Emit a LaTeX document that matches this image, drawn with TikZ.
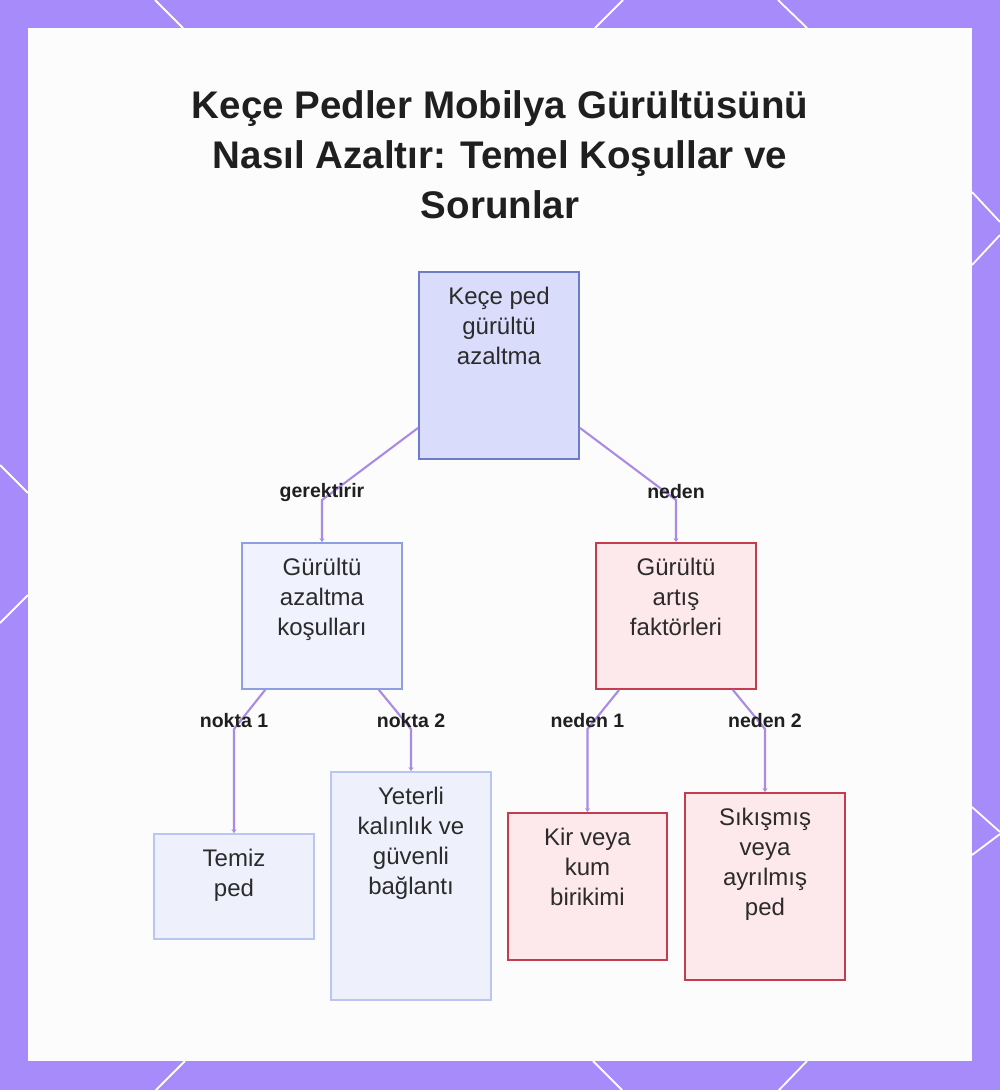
\documentclass[tikz,border=0pt]{standalone}
\usepackage{fontspec}
\setmainfont{Liberation Sans}
\usetikzlibrary{arrows.meta,positioning,calc}
\definecolor{Frame}{HTML}{A78BFA}
\definecolor{Panel}{HTML}{FCFCFC}
\definecolor{Ink}{HTML}{1F1F1F}
\definecolor{BoxInk}{HTML}{2B2B2B}
\definecolor{Link}{HTML}{A98BE6}
\definecolor{RootFill}{HTML}{D9DDFB}
\definecolor{RootLine}{HTML}{6B7DC8}
\definecolor{CondFill}{HTML}{F0F2FE}
\definecolor{CondLine}{HTML}{8E9FE0}
\definecolor{LeafFill}{HTML}{EEF1FC}
\definecolor{LeafLine}{HTML}{BAC5F1}
\definecolor{RiskFill}{HTML}{FDE8EC}
\definecolor{RiskLine}{HTML}{C43D4E}

\begin{document}
\begin{tikzpicture}[x=1pt,y=-1pt,
  box/.style={rectangle,inner sep=0pt,line width=1.7pt},
  rootbox/.style={box,fill=RootFill,draw=RootLine},
  condbox/.style={box,fill=CondFill,draw=CondLine},
  leafbox/.style={box,fill=LeafFill,draw=LeafLine},
  riskbox/.style={box,fill=RiskFill,draw=RiskLine},
  boxtext/.style={anchor=north,align=center,inner sep=0pt,yshift=-16pt,text=BoxInk,font=\fontsize{24}{30}\selectfont},
  link/.style={Link,line width=2.1pt,-{Stealth[length=4pt,width=5pt]}},
  elabel/.style={yshift=8pt,inner sep=0pt,text=Ink,font=\fontsize{19.5}{22}\selectfont\bfseries},
  deco/.style={white,line width=1.8pt}]
\useasboundingbox (0,0) rectangle (1000,1090);
% frame and panel
\fill[Frame] (0,0) rectangle (1000,1090);
\draw[deco] (155,0) -- (183,28);
\draw[deco] (623,0) -- (595,28);
\draw[deco] (778,0) -- (807,28);
\draw[deco] (972,192) -- (1000,222);
\draw[deco] (1000,235) -- (972,265);
\draw[deco] (972,807) -- (1000,832);
\draw[deco] (1000,834) -- (972,855);
\draw[deco] (0,465) -- (28,493);
\draw[deco] (28,595) -- (0,623);
\draw[deco] (185,1061) -- (156,1090);
\draw[deco] (593,1061) -- (622,1090);
\draw[deco] (807,1061) -- (779,1090);
\fill[Panel] (28,28) rectangle (972,1061);
% title
\node[anchor=north,align=center,inner sep=0pt,text=Ink,font=\fontsize{38.5}{50}\selectfont\bfseries] (title) at (500,90)
  {Keçe Pedler Mobilya Gürültüsünü\\Nasıl Azaltır: Temel Koşullar ve\\Sorunlar};
% boxes
\node[rootbox,minimum width=160pt,minimum height=187pt,label={[boxtext]north:Keçe ped\\gürültü\\azaltma}] (root) at (499,365.5) {};
\node[condbox,minimum width=160pt,minimum height=146pt,label={[boxtext]north:Gürültü\\azaltma\\koşulları}] (cond) at (322,616) {};
\node[riskbox,minimum width=160pt,minimum height=146pt,label={[boxtext]north:Gürültü\\artış\\faktörleri}] (risk) at (676,616) {};
\node[leafbox,minimum width=160pt,minimum height=105pt,label={[boxtext]north:Temiz\\ped}] (clean) at (234,886.5) {};
\node[leafbox,minimum width=160pt,minimum height=228pt,label={[boxtext]north:Yeterli\\kalınlık ve\\güvenli\\bağlantı}] (thick) at (411,886) {};
\node[riskbox,minimum width=159pt,minimum height=147pt,label={[boxtext]north:Kir veya\\kum\\birikimi}] (dirt) at (587.5,886.5) {};
\node[riskbox,minimum width=160pt,minimum height=187pt,label={[boxtext]north:Sıkışmış\\veya\\ayrılmış\\ped}] (loose) at (765,886.5) {};
% connectors
\draw[link] ($(root.south west)+(0,-32)$) -- (cond.north |- 0,500) node[elabel] {gerektirir} -- (cond.north);
\draw[link] ($(root.south east)+(0,-32)$) -- (risk.north |- 0,500) node[elabel] {neden} -- (risk.north);
\draw[link] ($(cond.south west)+(24,0)$) -- (clean.north |- 0,729) node[elabel] {nokta 1} -- (clean.north);
\draw[link] ($(cond.south east)+(-24,0)$) -- (thick.north |- 0,729) node[elabel] {nokta 2} -- (thick.north);
\draw[link] ($(risk.south west)+(24,0)$) -- (dirt.north |- 0,729) node[elabel] {neden 1} -- (dirt.north);
\draw[link] ($(risk.south east)+(-24,0)$) -- (loose.north |- 0,729) node[elabel] {neden 2} -- (loose.north);
\end{tikzpicture}
\end{document}
